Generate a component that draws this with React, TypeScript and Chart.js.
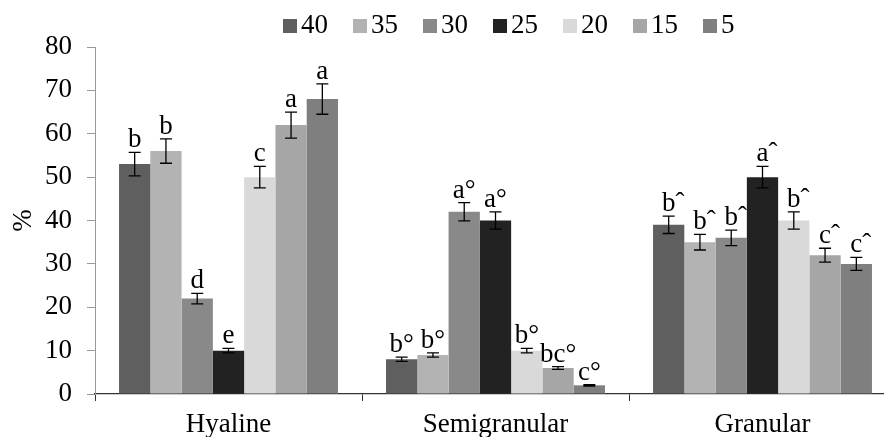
import React, { useEffect, useRef } from "react";
import { Chart, registerables } from "chart.js";

Chart.register(...registerables);

const categories = ["Hyaline", "Semigranular", "Granular"];
const seriesLabels = ["40", "35", "30", "25", "20", "15", "5"];
const seriesColors = ["#5f5f5f", "#b3b3b3", "#898989", "#222222", "#d9d9d9", "#a6a6a6", "#7f7f7f"];

const hyalineValues = [53, 56, 22, 10, 50, 62, 68];
const semigranularValues = [8, 9, 42, 40, 10, 6, 2];
const granularValues = [39, 35, 36, 50, 40, 32, 30];

const hyalineErrors = [2.7, 2.8, 1.2, 0.5, 2.5, 3, 3.5];
const semigranularErrors = [0.5, 0.5, 2.1, 2, 0.5, 0.3, 0.15];
const granularErrors = [2, 1.8, 1.8, 2.5, 2, 1.6, 1.5];

const hyalineLetters = ["b", "b", "d", "e", "c", "a", "a"];
const semigranularLetters = ["b°", "b°", "a°", "a°", "b°", "bc°", "c°"];
const granularLetters = ["bˆ", "bˆ", "bˆ", "aˆ", "bˆ", "cˆ", "cˆ"];

const yMin = 0;
const yMax = 80;
const yStep = 10;

const FONT_FAMILY = '"Liberation Serif", "Times New Roman", serif';
const FONT_SIZE = 27;

export default function App() {
  const ref = useRef<HTMLCanvasElement>(null);

  useEffect(() => {
    if (!ref.current) return;
    const valuesByCat = [hyalineValues, semigranularValues, granularValues];
    const errByCat = [hyalineErrors, semigranularErrors, granularErrors];
    const lettersByCat = [hyalineLetters, semigranularLetters, granularLetters];

    const datasets = seriesLabels.map((lab, s) => ({
      label: lab,
      data: valuesByCat.map((v) => v[s]),
      backgroundColor: seriesColors[s],
      borderWidth: 0,
      categoryPercentage: 0.82,
      barPercentage: 1,
    }));

    const errPlugin = {
      id: "errbars",
      afterDatasetsDraw(chart: any) {
        const ctx = chart.ctx;
        const y = chart.scales.y;
        ctx.save();
        ctx.strokeStyle = "#000";
        ctx.lineWidth = 1.3;
        ctx.font = `${FONT_SIZE}px ${FONT_FAMILY}`;
        ctx.fillStyle = "#000";
        ctx.textBaseline = "alphabetic";
        ctx.textAlign = "left";
        chart.data.datasets.forEach((_ds: any, s: number) => {
          const meta = chart.getDatasetMeta(s);
          meta.data.forEach((bar: any, c: number) => {
            const v = valuesByCat[c][s];
            const e = errByCat[c][s];
            const x = bar.x;
            const yt = y.getPixelForValue(v + e);
            const yb = y.getPixelForValue(v - e);
            ctx.beginPath();
            ctx.moveTo(x, yt);
            ctx.lineTo(x, yb);
            ctx.moveTo(x - 6, yt);
            ctx.lineTo(x + 6, yt);
            ctx.moveTo(x - 6, yb);
            ctx.lineTo(x + 6, yb);
            ctx.stroke();
            const txt = lettersByCat[c][s];
            const base = txt.replace(/ˆ$/, "");
            const w = ctx.measureText(base).width;
            ctx.fillText(txt, x - w / 2, yt - 5);
          });
        });
        ctx.restore();
      },
    };

    const legendPlugin = {
      id: "topLegend",
      afterDraw(chart: any) {
        const ctx = chart.ctx;
        ctx.save();
        ctx.font = `${FONT_SIZE}px ${FONT_FAMILY}`;
        ctx.textBaseline = "alphabetic";
        ctx.textAlign = "left";
        let x = 283;
        seriesLabels.forEach((lab, i) => {
          ctx.fillStyle = seriesColors[i];
          ctx.fillRect(x, 19, 14, 14);
          ctx.fillStyle = "#000";
          ctx.fillText(lab, x + 18, 33);
          x += 18 + ctx.measureText(lab).width + 25;
        });
        ctx.restore();
      },
    };

    const font = { family: FONT_FAMILY, size: FONT_SIZE };

    const chart = new Chart(ref.current, {
      type: "bar",
      data: { labels: categories, datasets },
      options: {
        responsive: false,
        animation: false,
        devicePixelRatio: 1,
        layout: { padding: { top: 47, right: 4, left: 0, bottom: 0 } },
        plugins: { legend: { display: false }, tooltip: { enabled: false } },
        scales: {
          x: {
            grid: { offset: true, drawOnChartArea: false, drawTicks: true, tickLength: 7, color: "#333", lineWidth: 1 },
            border: { color: "#333", width: 1.3 },
            ticks: { font, color: "#000", padding: 8, maxRotation: 0, autoSkip: false },
            afterFit(scale: any) {
              scale.height = 43;
            },
          },
          y: {
            min: yMin,
            max: yMax,
            ticks: { stepSize: yStep, font, color: "#000", padding: 15 },
            grid: { drawOnChartArea: false, tickLength: 8, color: "#999" },
            border: { color: "#999" },
            title: { display: true, text: "%", font, color: "#000", padding: { top: 8, bottom: 0 } },
            afterFit(scale: any) {
              scale.width = 95;
            },
          },
        },
      },
      plugins: [errPlugin, legendPlugin],
    } as any);

    return () => chart.destroy();
  }, []);

  return (
    <div style={{ position: "fixed", left: 0, top: 0, width: 884, height: 437, overflow: "hidden", background: "#fff" }}>
      <canvas ref={ref} width={900} height={437} style={{ display: "block", width: 900, height: 437 }} />
    </div>
  );
}
